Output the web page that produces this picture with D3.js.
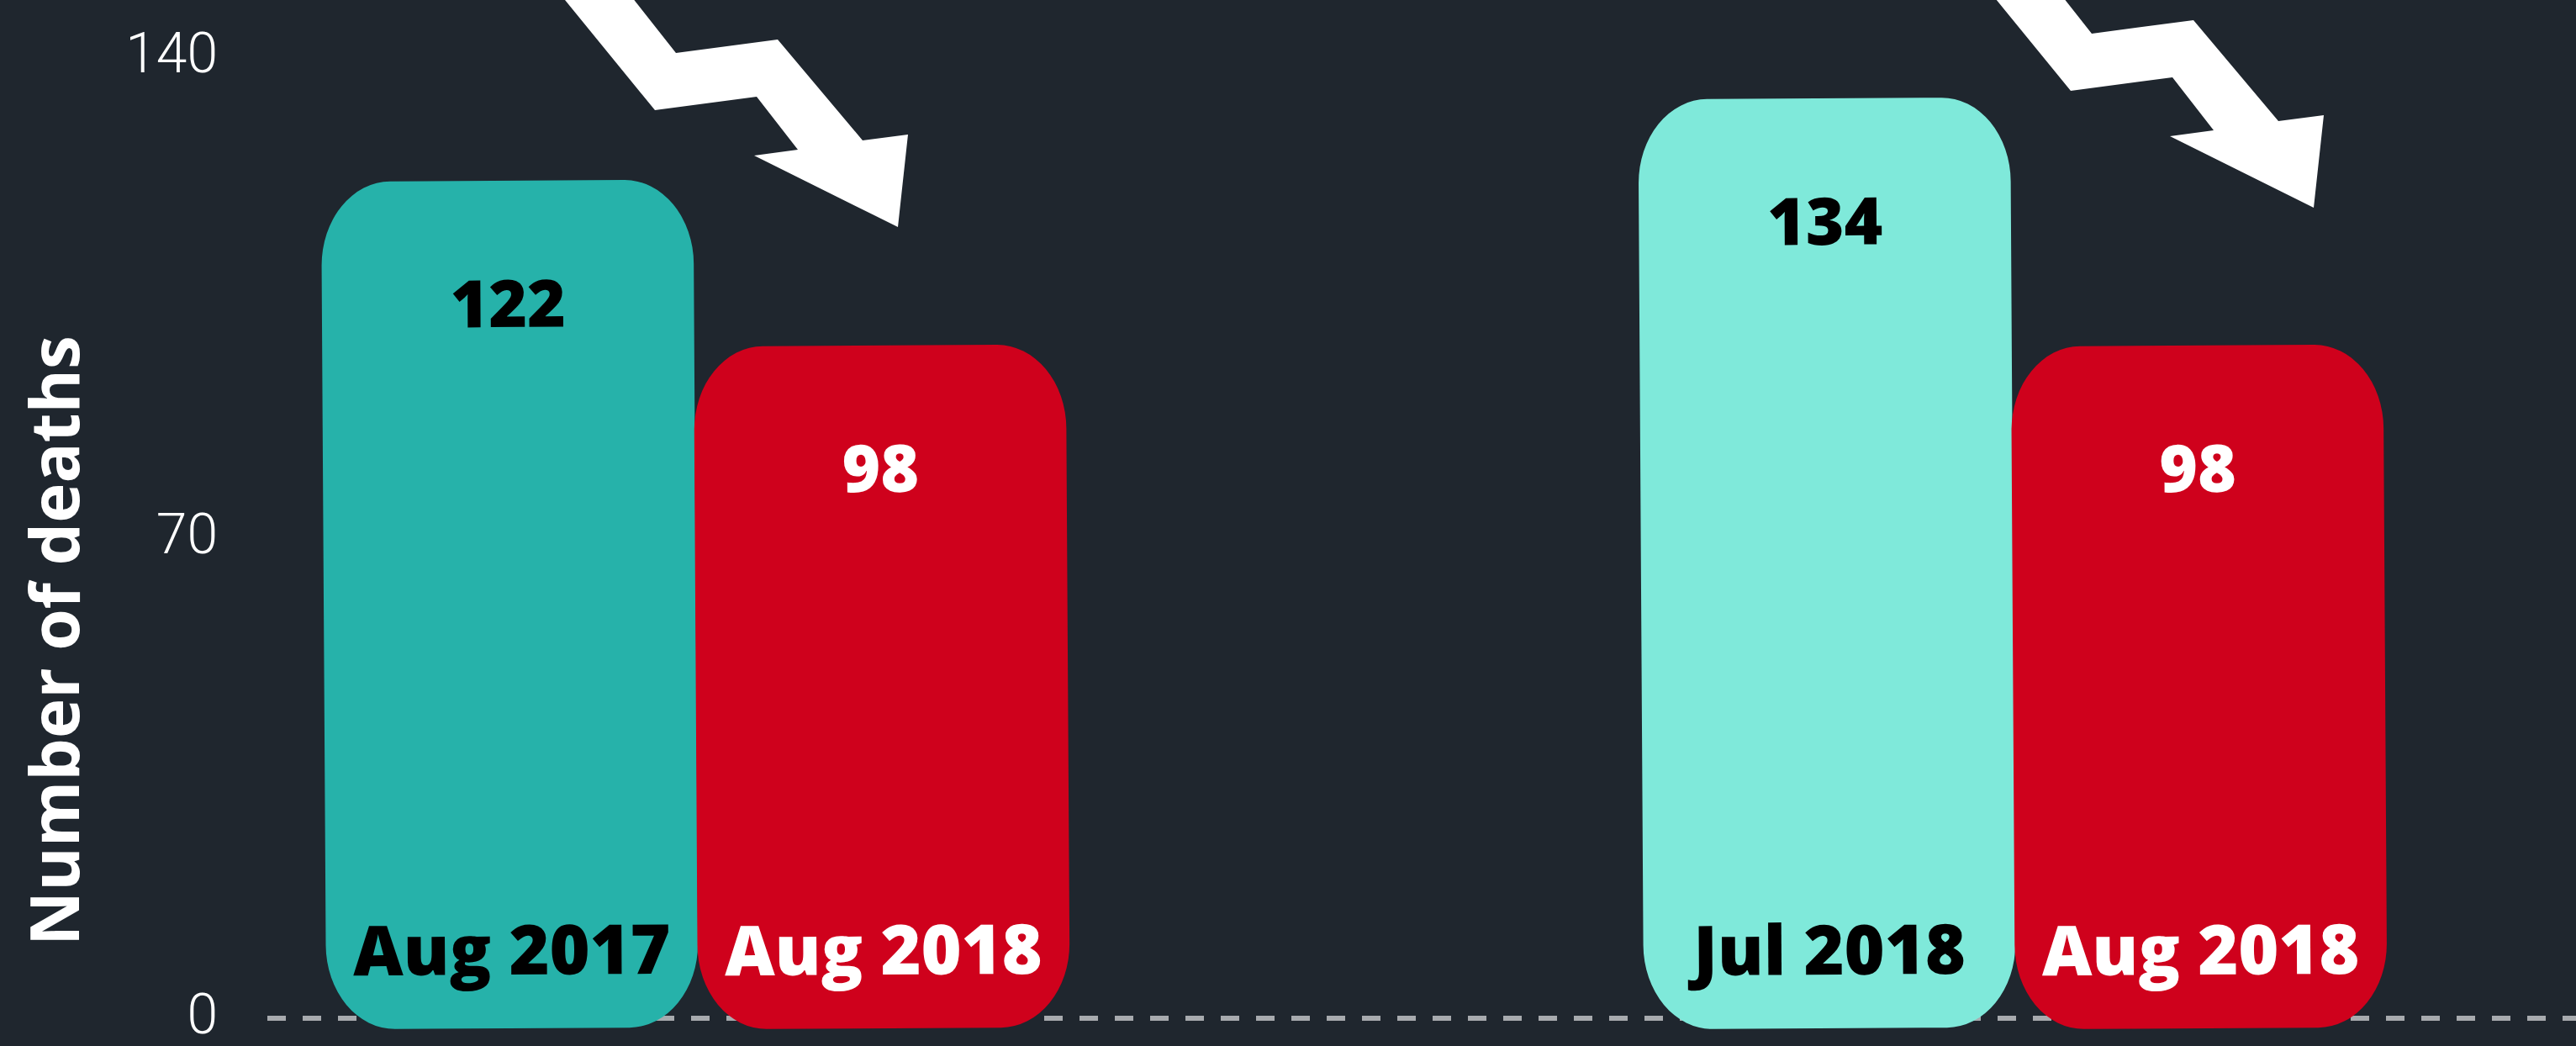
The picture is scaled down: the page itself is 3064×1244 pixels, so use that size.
<!DOCTYPE html>
<html>
<head>
<meta charset="utf-8">
<script src="https://cdn.jsdelivr.net/npm/d3@7"></script>
<style>
  html, body { margin: 0; padding: 0; background: #1f262e; }
  #graphic svg { display: block; }
</style>
</head>
<body>
<div id="graphic"></div>
<script>
// data
const groups = ['Aug 2017 vs Aug 2018', 'Jul 2018 vs Aug 2018'];
const barLabels = [['Aug 2017', 'Aug 2018'], ['Jul 2018', 'Aug 2018']];
const barValues = [[122, 98], [134, 98]];
const barColours = [['#26b2aa', '#cf011c'], ['#7fe9da', '#cf011c']];
const textColours = [['#000', '#fff'], ['#000', '#fff']];
const yTicks = [0, 70, 140];
const yAxisLabel = 'Number of deaths';

const width = 3064, height = 1244;
const bg = '#1f262e';

const svg = d3.select('#graphic')
	.append('svg')
	.attr('width', width)
	.attr('height', height);

svg.append('rect').attr('width', width).attr('height', height).attr('fill', bg);

//set up scales
const y = d3.scaleLinear().domain([0, 140]).range([1211, 68]);

const x0 = d3.scaleBand()
	.domain(groups)
	.range([385, 2837])
	.paddingInner(0.435)
	.paddingOuter(0);

const x1 = d3.scaleBand()
	.domain([0, 1])
	.range([0, x0.bandwidth()])
	.padding(0);

// y tick labels, no axis line
svg.append('g')
	.attr('class', 'y axis')
	.selectAll('text')
	.data(yTicks)
	.join('text')
	.attr('x', 259)
	.attr('y', (d) => y(d))
	.attr('dy', '0.28em')
	.attr('text-anchor', 'end')
	.attr('fill', '#fff')
	.style('font-family', 'Roboto, sans-serif')
	.style('font-weight', 300)
	.style('font-size', '66px')
	.text((d) => d);

// dashed zero line
svg.append('line')
	.attr('x1', 318)
	.attr('x2', width)
	.attr('y1', y(0))
	.attr('y2', y(0))
	.attr('stroke', '#a7aaae')
	.attr('stroke-width', 6)
	.attr('stroke-dasharray', '22 20');

// y axis label
svg.append('text')
	.attr('transform', `translate(${94},${762}) rotate(-90)`)
	.attr('text-anchor', 'middle')
	.attr('fill', '#fff')
	.style('font-family', '"Open Sans", sans-serif')
	.style('font-weight', 700)
	.style('font-size', '80px')
	.text(yAxisLabel);

// bars
const barData = [];
groups.forEach((g, gi) => {
	barValues[gi].forEach((v, i) => {
		barData.push({ group: g, gi: gi, i: i, value: v, label: barLabels[gi][i], colour: barColours[gi][i], text: textColours[gi][i] });
	});
});

const bars = svg.append('g')
	.selectAll('g')
	.data(barData)
	.join('g')
	.attr('transform', (d) => {
		const cx = x0(d.group) + x1(d.i) + x1.bandwidth() / 2;
		const cy = (y(d.value) + y(0)) / 2;
		return `rotate(-0.35, ${cx}, ${cy})`;
	});

bars.append('rect')
	.attr('x', (d) => x0(d.group) + x1(d.i))
	.attr('y', (d) => y(d.value))
	.attr('width', x1.bandwidth())
	.attr('height', (d) => y(0) - y(d.value) + 12)
	.attr('rx', 82)
	.attr('ry', 100)
	.attr('fill', (d) => d.colour);

// value labels
bars.append('text')
	.attr('x', (d) => x0(d.group) + x1(d.i) + x1.bandwidth() / 2)
	.attr('y', (d) => y(d.value) + 174)
	.attr('text-anchor', 'middle')
	.attr('fill', (d) => d.text)
	.style('font-family', '"Open Sans", sans-serif')
	.style('font-weight', 800)
	.style('font-size', '78px')
	.text((d) => d.value);

// category labels
bars.append('text')
	.attr('x', (d) => x0(d.group) + x1(d.i) + x1.bandwidth() / 2)
	.attr('y', y(0) - 52)
	.attr('text-anchor', 'middle')
	.attr('fill', (d) => d.text)
	.style('font-family', '"Open Sans", sans-serif')
	.style('font-weight', 800)
	.style('font-size', '82px')
	.text((d) => d.label);

// zigzag arrows (annotation), shape relative to the tip
const arrowShape = [[-445, -330], [-361, -330], [-264, -207], [-143, -223], [-42, -103], [12, -110], [0, 0], [-171, -85], [-119, -92], [-168, -155], [-289, -139]];
const arrowTips = [[1068, 270], [2752, 247]];

svg.append('g')
	.selectAll('path')
	.data(arrowTips)
	.join('path')
	.attr('transform', (d) => `translate(${d[0]},${d[1]})`)
	.attr('d', d3.line()(arrowShape) + 'Z')
	.attr('fill', '#fff');
</script>
</body>
</html>
